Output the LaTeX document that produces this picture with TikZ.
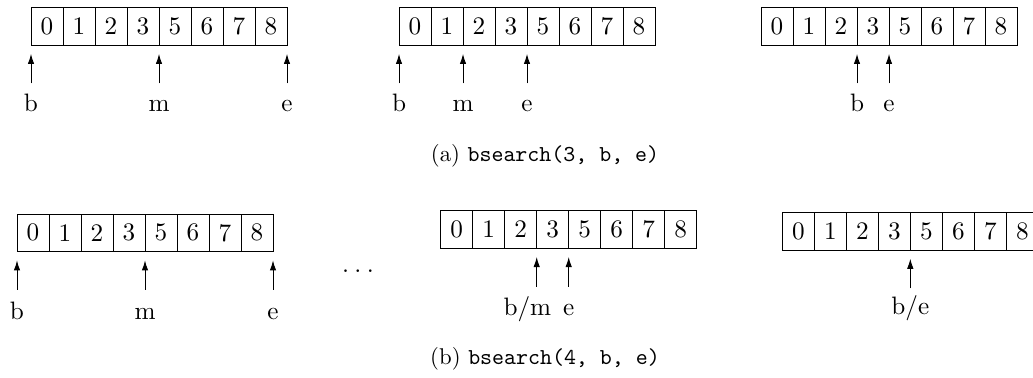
\documentclass[tikz,border=0pt]{standalone}
\usetikzlibrary{arrows.meta}
% one drawing unit = one pixel of the final page
\def\pxu{0.41667pt}
\tikzset{
  cell/.style={draw, line width=0.4pt, minimum width=32*\pxu, minimum height=37.7*\pxu,
    inner sep=0pt, outer sep=0pt, anchor=north west, font=\fontsize{10.5}{12}\selectfont},
  ptr/.style={line width=0.4pt, -{Latex[length=4.2pt,width=2.7pt]}},
  lbl/.style={inner sep=0pt, anchor=base, font=\fontsize{10.5}{12}\selectfont},
  captext/.style={inner sep=0pt, anchor=base, font=\fontsize{9.5}{11}\selectfont},
}
% a sorted array of eight cells; #1 = name prefix, #2 = left x, #3 = top y
\newcommand\cellrow[3]{%
  \foreach \v [count=\i from 0] in {0,1,2,3,5,6,7,8}
    \node[cell] (#1c\i) at ({#2+32*\i},#3) {\v};
}
% pointer arrow below a cell corner
\newcommand\ptrat[1]{%
  \draw[ptr] ([yshift=-38.3*\pxu]#1) -- ([yshift=-8.7*\pxu]#1);
}
\begin{document}
\begin{tikzpicture}[x=\pxu, y=-\pxu]
\useasboundingbox (0,0) rectangle (1033,378);
\clip (0,0) rectangle (1033,378);

% ---- (a) searching for 3 ----
\cellrow{A}{31}{7.5}
\ptrat{Ac0.south west}
\ptrat{Ac4.south west}
\ptrat{Ac7.south east}
\node[lbl] (Ab) at ([yshift=-66.7*\pxu]Ac0.south west) {b};
\node[lbl] (Am) at ([yshift=-66.7*\pxu]Ac4.south west) {m};
\node[lbl] (Ae) at ([yshift=-66.7*\pxu]Ac7.south east) {e};

\cellrow{B}{399}{7.5}
\ptrat{Bc0.south west}
\ptrat{Bc2.south west}
\ptrat{Bc4.south west}
\node[lbl] (Bb) at ([yshift=-66.7*\pxu]Bc0.south west) {b};
\node[lbl] (Bm) at ([yshift=-66.7*\pxu]Bc2.south west) {m};
\node[lbl] (Be) at ([yshift=-66.7*\pxu]Bc4.south west) {e};

\cellrow{C}{761}{7.5}
\ptrat{Cc3.south west}
\ptrat{Cc4.south west}
\node[lbl] (Cb) at ([yshift=-66.7*\pxu]Cc3.south west) {b};
\node[lbl] (Ce) at ([yshift=-66.7*\pxu]Cc4.south west) {e};

\node[captext] (capa) at (545,162) {(a) \texttt{bsearch(3, b, e)}};

% ---- (b) searching for 4 ----
\cellrow{D}{17}{214}
\ptrat{Dc0.south west}
\ptrat{Dc4.south west}
\ptrat{Dc7.south east}
\node[lbl] (Db) at ([yshift=-68*\pxu]Dc0.south west) {b};
\node[lbl] (Dm) at ([yshift=-68*\pxu]Dc4.south west) {m};
\node[lbl] (De) at ([yshift=-68*\pxu]Dc7.south east) {e};

\node[lbl] (dots) at (358,273) {.\kern2.2pt.\kern2.2pt.};

\cellrow{E}{440.7}{210.6}
\ptrat{Ec3.south west}
\ptrat{Ec4.south west}
\node[lbl, anchor=base east] (Ebm) at ([xshift=15*\pxu, yshift=-67.7*\pxu]Ec3.south west) {b/m};
\node[lbl] (Ee) at ([yshift=-67.7*\pxu]Ec4.south west) {e};

\cellrow{F}{782.3}{212.3}
\ptrat{Fc4.south west}
\node[lbl] (Fbe) at ([yshift=-64*\pxu]Fc4.south west) {b/e};

\node[captext] (capb) at (545,364) {(b) \texttt{bsearch(4, b, e)}};
\end{tikzpicture}
\end{document}
